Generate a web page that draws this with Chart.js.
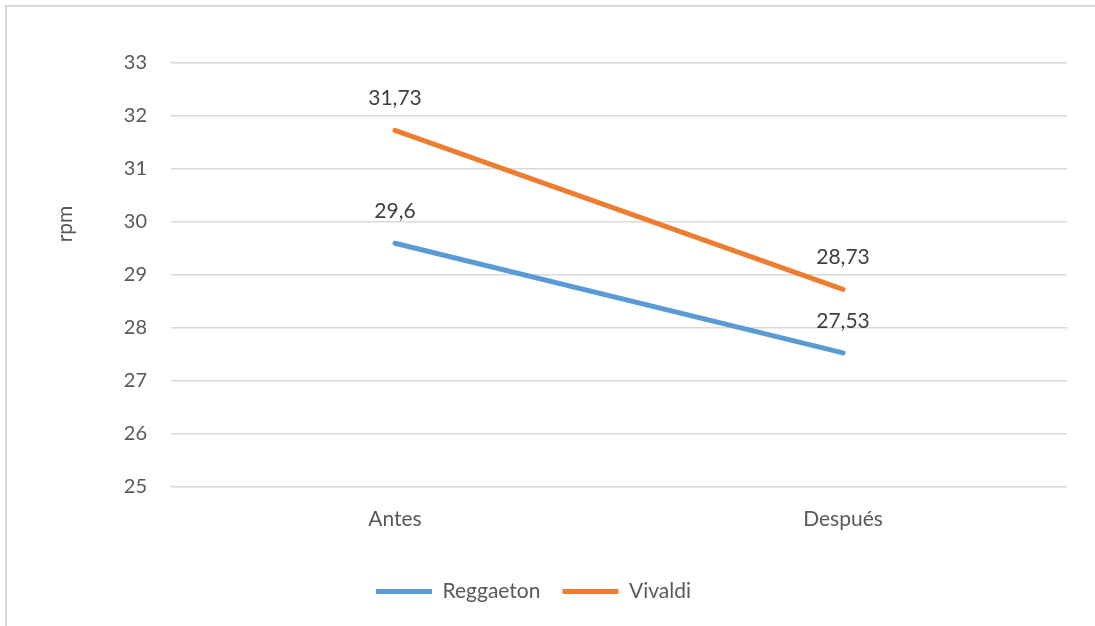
<!DOCTYPE html>
<html>
<head>
  <meta charset="UTF-8">
  <title>rpm</title>
  <style>
    html, body { margin: 0; padding: 0; background: #fff; }
    .wrap { position: relative; width: 1095px; height: 626px; }
    .frame { position: absolute; left: 5px; top: 5px; right: 0; bottom: 0;
             border-top: 2px solid #d9d9d9; border-left: 2px solid #d9d9d9; }
    canvas { position: absolute; left: 0; top: 0; }
  </style>
</head>
<body>
  <div class="wrap">
    <div class="frame"></div>
    <canvas id="rpmChart" width="1095" height="626"></canvas>
  </div>

  <script src="https://cdn.jsdelivr.net/npm/chart.js@4.4.1/dist/chart.umd.min.js"></script>
  <script>
    // data
    const categories = ['Antes', 'Después'];
    const reggaeton = [29.6, 27.53];
    const vivaldi = [31.73, 28.73];
    const yTicks = [25, 26, 27, 28, 29, 30, 31, 32, 33];

    const textColor = '#595959';
    const fontFamily = 'Lato, "Open Sans", sans-serif';

    // value labels above each point, with comma decimals
    const valueLabels = {
      id: 'valueLabels',
      afterDatasetsDraw(chart) {
        const ctx = chart.ctx;
        ctx.save();
        ctx.font = '21px ' + fontFamily;
        ctx.fillStyle = '#404040';
        ctx.textAlign = 'center';
        ctx.textBaseline = 'middle';
        chart.data.datasets.forEach((ds, i) => {
          chart.getDatasetMeta(i).data.forEach((pt, j) => {
            ctx.fillText(String(ds.data[j]).replace('.', ','), pt.x, pt.y - 32);
          });
        });
        ctx.restore();
      }
    };

    // axis title sits a bit above the middle, like the original
    const axisTitle = {
      id: 'axisTitle',
      afterDraw(chart) {
        const ctx = chart.ctx;
        ctx.save();
        ctx.font = '21px ' + fontFamily;
        ctx.fillStyle = textColor;
        ctx.textAlign = 'center';
        ctx.textBaseline = 'middle';
        ctx.translate(65, 224);
        ctx.rotate(-Math.PI / 2);
        ctx.fillText('rpm', 0, 0);
        ctx.restore();
      }
    };

    const ctx = document.getElementById('rpmChart').getContext('2d');
    new Chart(ctx, {
      type: 'line',
      data: {
        labels: categories,
        datasets: [
          {
            label: 'Reggaeton',
            data: reggaeton,
            borderColor: '#5b9bd5',
            backgroundColor: '#5b9bd5',
            borderWidth: 5,
            borderCapStyle: 'round',
            pointRadius: 0
          },
          {
            label: 'Vivaldi',
            data: vivaldi,
            borderColor: '#ed7d31',
            backgroundColor: '#ed7d31',
            borderWidth: 5,
            borderCapStyle: 'round',
            pointRadius: 0
          }
        ]
      },
      options: {
        responsive: false,
        animation: false,
        layout: { padding: { left: 0, right: 28, top: 63, bottom: 14 } },
        scales: {
          x: {
            offset: true,
            grid: { display: false, drawTicks: false },
            border: { display: false },
            ticks: { color: textColor, font: { family: fontFamily, size: 21 }, padding: 20 },
            afterFit(scale) { scale.height = 72; }
          },
          y: {
            min: 25,
            max: 33,
            afterBuildTicks(scale) { scale.ticks = yTicks.map(v => ({ value: v })); },
            grid: { color: '#d9d9d9', lineWidth: 1.5, drawTicks: false },
            border: { display: false },
            ticks: { color: textColor, font: { family: fontFamily, size: 20 }, padding: 24 },
            afterFit(scale) { scale.width = 171; }
          }
        },
        plugins: {
          legend: {
            position: 'bottom',
            labels: {
              usePointStyle: true,
              pointStyle: 'line',
              pointStyleWidth: 56,
              color: textColor,
              font: { family: fontFamily, size: 21 },
              padding: 22
            }
          },
          tooltip: { enabled: false }
        }
      },
      plugins: [valueLabels, axisTitle]
    });
  </script>
</body>
</html>
